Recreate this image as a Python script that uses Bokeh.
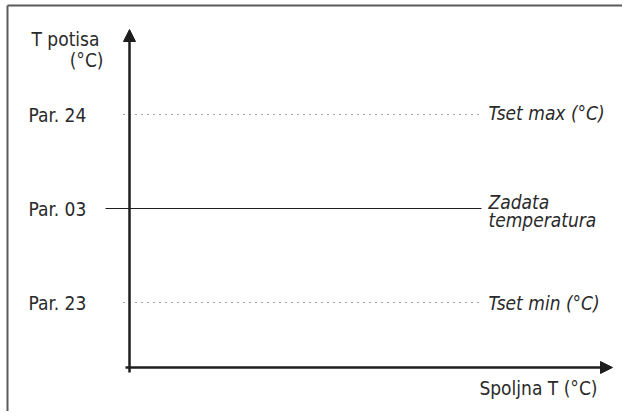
from bokeh.plotting import figure
from bokeh.models import Range1d, Arrow, NormalHead
from bokeh.core.properties import value
from bokeh.embed import file_html
from bokeh.resources import INLINE

# ---- data (schematic levels) ----
levels = [3, 2, 1]                      # Par. 24, Par. 03, Par. 23
level_labels = ["Par. 24", "Par. 03", "Par. 23"]
right_labels = ["Tset max (°C)", "Zadata", "Tset min (°C)"]
right_label_extra = "temperatura"
level_dashed = [True, False, True]
y_title = ["T potisa", "(°C)"]
x_title = "Spoljna T (°C)"

# ---- layout (figure-relative pixel positions) ----
W, H = 622, 411
AXIS_X = 129
MID_Y, STEP = 208, 94
FONT = value("DejaVu Sans Condensed, Liberation Sans")
INK = "#1e1e1e"
TXT = "#2a2a2a"


def px(x):
    return x - AXIS_X


def py(y):
    return 2 + (MID_Y - y) / STEP


p = figure(width=W, height=H, output_backend="svg", toolbar_location=None,
           x_range=Range1d(px(0), px(W)), y_range=Range1d(py(H), py(0)),
           x_axis_type=None, y_axis_type=None, min_border=0,
           outline_line_color=None, background_fill_color="white")
p.grid.visible = False

# outer frame (top and left edges visible)
p.segment(x0=[px(7), px(7)], y0=[py(5), py(5)],
          x1=[px(W), px(7)], y1=[py(5), py(H)],
          line_color="#5a5a5a", line_width=2)

# level lines
for lv, dashed in zip(levels, level_dashed):
    if dashed:
        p.segment(x0=[px(123)], y0=[lv], x1=[px(481)], y1=[lv],
                  line_color="#444444", line_width=1.2, line_dash="1 5")
    else:
        p.segment(x0=[px(105)], y0=[lv], x1=[px(481)], y1=[lv],
                  line_color=INK, line_width=1.2)

# axes with arrows
p.add_layout(Arrow(x_start=0, y_start=py(372), x_end=0, y_end=py(29),
                   line_color=INK, line_width=2.5,
                   end=NormalHead(size=12, fill_color=INK, line_color=INK, line_width=1)))
p.add_layout(Arrow(x_start=px(125), y_start=py(367), x_end=px(612), y_end=py(367),
                   line_color=INK, line_width=2.5,
                   end=NormalHead(size=12, fill_color=INK, line_color=INK, line_width=1)))

# level labels (left)
p.text(x=[px(28)] * 3, y=levels, text=level_labels, text_font=FONT,
       text_font_size="19px", text_color=TXT, text_baseline="middle", text_align="left")

# right labels (italic)
p.text(x=[px(488)] * 3, y=levels, text=right_labels, text_font=FONT,
       text_font_size="19px", text_font_style="italic", text_color=TXT,
       text_baseline="middle", text_align="left",
       y_offset=[-2, -7, 0])
p.text(x=[px(488)], y=[levels[1]], text=[right_label_extra], text_font=FONT,
       text_font_size="19px", text_font_style="italic", text_color=TXT,
       text_baseline="middle", text_align="left", y_offset=[11])

# axis titles
p.text(x=[px(99), px(103)], y=[py(38), py(59)], text=y_title, text_font=FONT,
       text_font_size="19px", text_color=TXT, text_baseline="middle", text_align="right")
p.text(x=[px(597)], y=[py(387)], text=[x_title], text_font=FONT,
       text_font_size="19px", text_color=TXT, text_baseline="middle", text_align="right")

open("out.html", "w").write(file_html(p, INLINE))
